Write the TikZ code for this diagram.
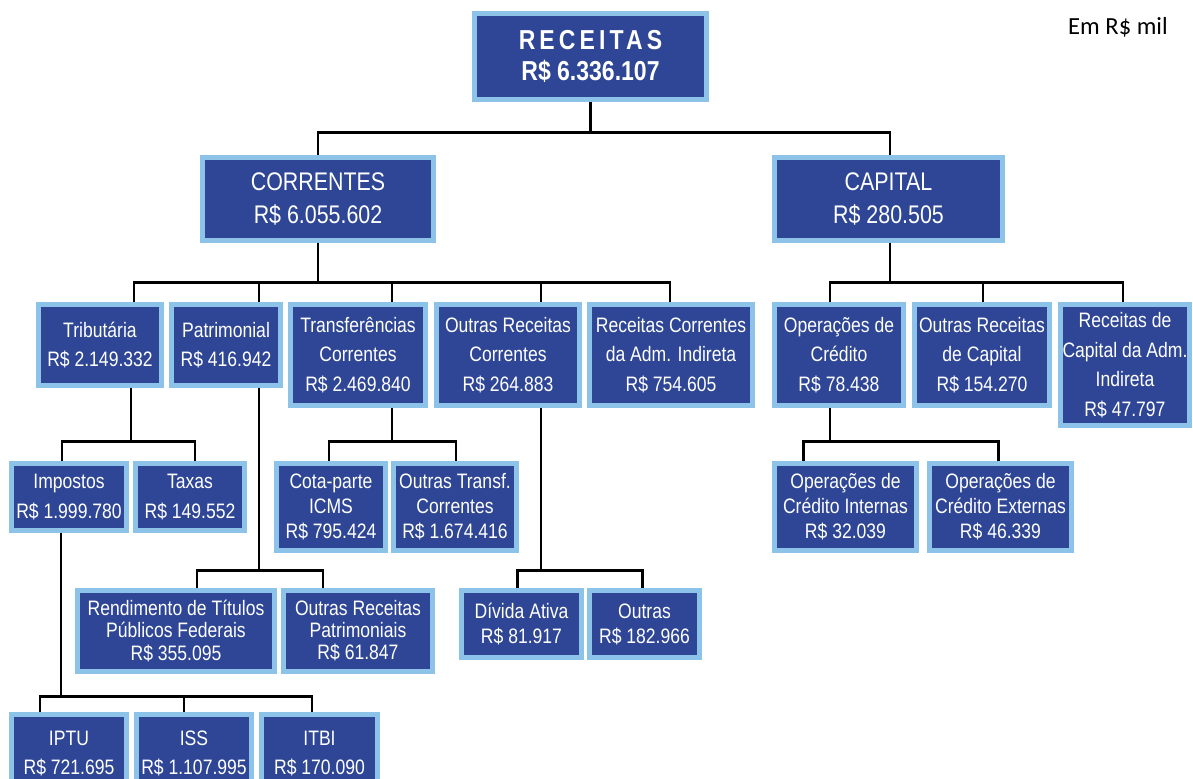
\documentclass[tikz,border=0pt]{standalone}
\usepackage{fontspec}
\setmainfont{Liberation Sans}[FakeStretch=0.84]
\newfontfamily\notefont{Carlito}
\newfontfamily\spacedfont{Liberation Sans}[FakeStretch=0.84,LetterSpace=15]
\usetikzlibrary{positioning, calc}
\definecolor{boxblue}{HTML}{2E4695}
\definecolor{rimblue}{HTML}{8DC3E8}

\begin{document}
\begin{tikzpicture}[
        x=0.02cm, y=-0.02cm,
        bluebox/.style={draw=rimblue, line width=2.6pt, fill=boxblue, text=white, align=center, inner sep=0pt, font=\fontsize{11.9}{16.8}\selectfont},
        tightbox/.style={bluebox, font=\fontsize{11.9}{14.3}\selectfont},
        tighterbox/.style={bluebox, font=\fontsize{11.9}{12.6}\selectfont},
        bigbox/.style={bluebox, font=\fontsize{14.5}{19.3}\selectfont},
        titlebox/.style={bluebox, font=\fontsize{15.6}{18}\selectfont\bfseries},
        boxsize/.style 2 args={minimum width=#1*0.02cm, minimum height=#2*0.02cm},
        black_line/.style={draw=black, line width=1.5pt}
    ]
    \useasboundingbox (0,0) rectangle (1193,778);
    \clip (0,0) rectangle (1193,778);

    % Top of the tree
    \node[titlebox, boxsize={232}{86}] (receitas_total) at (590.5,56.5) {{\spacedfont RECEITAS}\\R\$ 6.336.107};
    \node[font=\notefont\fontsize{14}{16}\selectfont] (unit_note) at (1118,27) {Em R\$ mil};

    \node[bigbox, boxsize={231}{83}] (correntes_total) at (318,199) {CORRENTES\\R\$ 6.055.602};
    \node[bigbox, boxsize={228}{83}] (capital_total) at (888.5,199) {CAPITAL\\R\$ 280.505};

    % Receitas correntes
    \node[bluebox, boxsize={123}{81}] (tributaria) at (100,345) {Tributária\\R\$ 2.149.332};
    \node[bluebox, boxsize={109}{81}] (patrimonial) at (226,345) {Patrimonial\\R\$ 416.942};
    \node[bluebox, boxsize={135}{101}] (transferencias) at (358,355) {Transferências\\Correntes\\R\$ 2.469.840};
    \node[bluebox, boxsize={143}{101}] (outras_correntes) at (508,355) {Outras Receitas\\Correntes\\R\$ 264.883};
    \node[bluebox, boxsize={163}{101}] (indireta_correntes) at (671,355) {Receitas Correntes\\da Adm. Indireta\\R\$ 754.605};

    % Receitas de capital
    \node[bluebox, boxsize={129}{101}] (operacoes_credito) at (839,355) {Operações de\\Crédito\\R\$ 78.438};
    \node[bluebox, boxsize={135}{101}] (outras_capital) at (982,355) {Outras Receitas\\de Capital\\R\$ 154.270};
    \node[bluebox, boxsize={129}{121}] (indireta_capital) at (1125,365) {Receitas de\\Capital da Adm.\\Indireta\\R\$ 47.797};

    % Third level
    \node[bluebox, boxsize={115}{67}] (impostos) at (69,497) {Impostos\\R\$ 1.999.780};
    \node[bluebox, boxsize={109}{67}] (taxas) at (190,497) {Taxas\\R\$ 149.552};
    \node[tightbox, boxsize={109}{87}] (cota_icms) at (331,507) {Cota-parte\\ICMS\\R\$ 795.424};
    \node[tightbox, boxsize={123}{87}] (outras_transf) at (455,507) {Outras Transf.\\Correntes\\R\$ 1.674.416};
    \node[tightbox, boxsize={142}{87}] (credito_internas) at (845.5,507) {Operações de\\Crédito Internas\\R\$ 32.039};
    \node[tightbox, boxsize={142}{87}] (credito_externas) at (1000.5,507) {Operações de\\Crédito Externas\\R\$ 46.339};

    % Fourth level
    \node[tighterbox, boxsize={197}{81}] (rendimento_titulos) at (176,631) {Rendimento de Títulos\\Públicos Federais\\R\$ 355.095};
    \node[tighterbox, boxsize={149}{81}] (outras_patrimoniais) at (358,631) {Outras Receitas\\Patrimoniais\\R\$ 61.847};
    \node[tightbox, boxsize={120}{67}] (divida_ativa) at (521.5,624) {Dívida Ativa\\R\$ 81.917};
    \node[tightbox, boxsize={110}{67}] (outras_diversas) at (644.5,624) {Outras\\R\$ 182.966};

    % Impostos
    \node[bluebox, boxsize={115}{78}] (iptu) at (69,753.5) {IPTU\\R\$ 721.695};
    \node[bluebox, boxsize={115}{78}] (iss) at (194,753.5) {ISS\\R\$ 1.107.995};
    \node[bluebox, boxsize={116}{78}] (itbi) at (319.5,753.5) {ITBI\\R\$ 170.090};

    % Connecting lines
    \draw[black_line] (receitas_total.south) -- ++(0,31) -| (correntes_total.north);
    \draw[black_line] (receitas_total.south) -- ++(0,31) -| ([xshift=0.03cm]capital_total.north);

    \draw[black_line] (correntes_total.south) -- ++(0,40) -| ([xshift=0.68cm]tributaria.north);
    \draw[black_line] (correntes_total.south) -- ++(0,40) -| ([xshift=0.66cm]patrimonial.north);
    \draw[black_line] (correntes_total.south) -- ++(0,40) -| ([xshift=0.68cm]transferencias.north);
    \draw[black_line] (correntes_total.south) -- ++(0,40) -| ([xshift=0.66cm]outras_correntes.north);
    \draw[black_line] (correntes_total.south) -- ++(0,40) -| ([xshift=-0.02cm]indireta_correntes.north);

    \draw[black_line] ([xshift=0.03cm]capital_total.south) -- ++(0,40) -| ([xshift=-0.18cm]operacoes_credito.north);
    \draw[black_line] ([xshift=0.03cm]capital_total.south) -- ++(0,40) -| ([xshift=0.02cm]outras_capital.north);
    \draw[black_line] ([xshift=0.03cm]capital_total.south) -- ++(0,40) -| ([xshift=-0.04cm]indireta_capital.north);

    \draw[black_line] ([xshift=0.62cm]tributaria.south) -- ++(0,54) -| ([xshift=-0.14cm]impostos.north);
    \draw[black_line] ([xshift=0.62cm]tributaria.south) -- ++(0,54) -| ([xshift=0.1cm]taxas.north);
    \draw[black_line] ([xshift=0.68cm]transferencias.south) -- ++(0,34) -| ([xshift=-0.04cm]cota_icms.north);
    \draw[black_line] ([xshift=0.68cm]transferencias.south) -- ++(0,34) -| ([xshift=0.02cm]outras_transf.north);
    \draw[black_line] ([xshift=-0.18cm]operacoes_credito.south) -- ++(0,34) -| ([xshift=-0.84cm]credito_internas.north);
    \draw[black_line] ([xshift=-0.18cm]operacoes_credito.south) -- ++(0,34) -| ([xshift=-0.04cm]credito_externas.north);

    \draw[black_line] ([xshift=0.66cm]patrimonial.south) -- ++(0,183) -| ([xshift=0.42cm]rendimento_titulos.north);
    \draw[black_line] ([xshift=0.66cm]patrimonial.south) -- ++(0,183) -| ([xshift=-0.7cm]outras_patrimoniais.north);
    \draw[black_line] ([xshift=0.66cm]outras_correntes.south) -- ++(0,163) -| ([xshift=-0.08cm]divida_ativa.north);
    \draw[black_line] ([xshift=0.66cm]outras_correntes.south) -- ++(0,163) -| ([xshift=-0.04cm]outras_diversas.north);

    \draw[black_line] ([xshift=-0.16cm]impostos.south) -- ++(0,164) -| ([xshift=-0.58cm]iptu.north);
    \draw[black_line] ([xshift=-0.16cm]impostos.south) -- ++(0,164) -| ([xshift=-0.2cm]iss.north);
    \draw[black_line] ([xshift=-0.16cm]impostos.south) -- ++(0,164) -| ([xshift=-0.15cm]itbi.north);
\end{tikzpicture}
\end{document}
